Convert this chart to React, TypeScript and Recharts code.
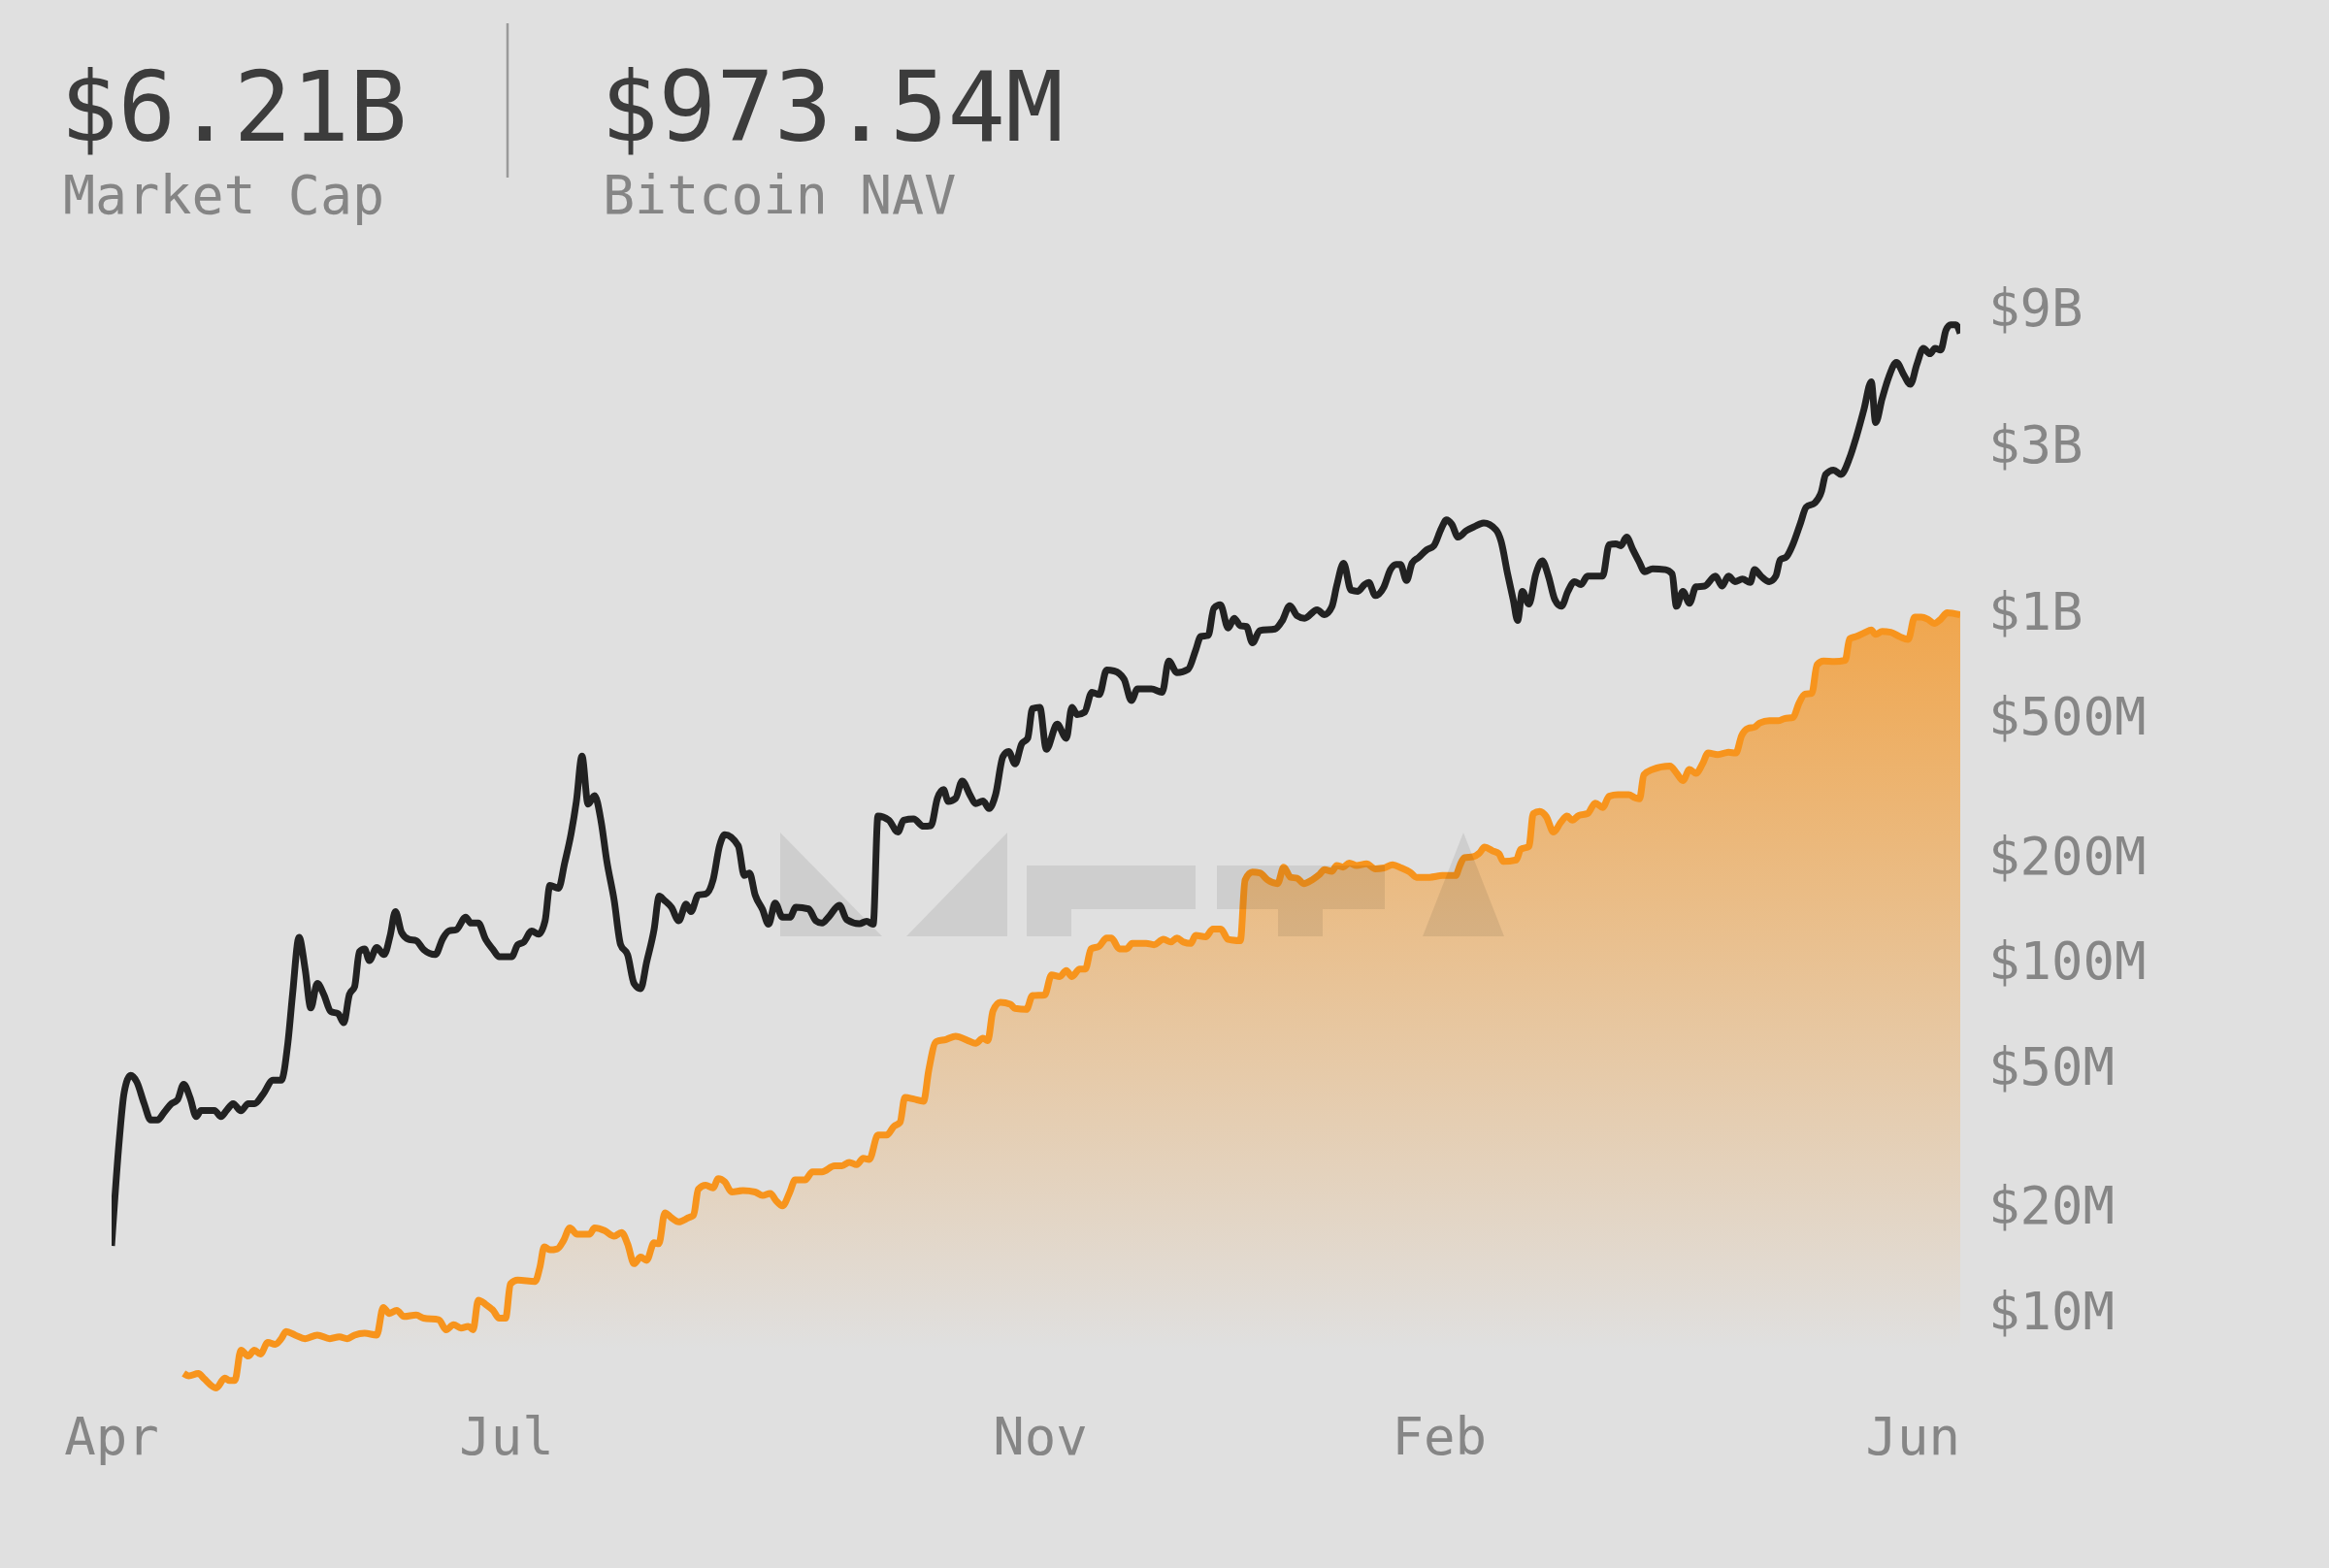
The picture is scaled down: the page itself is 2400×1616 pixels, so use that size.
import { ComposedChart, Line, Area, XAxis, YAxis } from "recharts";

// day = days since 2024-04-01, value in $M
const marketCap: [number, number][] = [
  [0, 15.3], [1.8, 31], [2.9, 42], [4.4, 47], [5.8, 45], [7.5, 39], [9, 35], [10.6, 35],
  [12.1, 36.8], [13.8, 39], [15.2, 40], [16.6, 44.3], [18.1, 40.5], [19.5, 35.8], [20.6, 37.3],
  [23.7, 37.3], [25.2, 35.8], [26.5, 37.3], [28, 39], [29.8, 37.2], [31.5, 39], [32.9, 39],
  [34.9, 41.5], [37.2, 45.5], [39.1, 45.5], [40.6, 57.8], [41.7, 80], [43.2, 116.5], [44.6, 94.5],
  [45.9, 73.2], [47.4, 86], [48.9, 80], [50.5, 71.5], [52.2, 70.5], [53.5, 66.4], [54.8, 80],
  [56, 84.2], [57.1, 106], [58.3, 108], [59.4, 100], [61.1, 109], [62.8, 104], [64.2, 118],
  [65.4, 138], [66.8, 120.5], [68.5, 115], [70.2, 114], [71.9, 107.5], [74.6, 104], [76.3, 115.5],
  [77.7, 121.5], [79.4, 122.5], [81.6, 133], [82.8, 128], [84.5, 128], [86.2, 115], [87.9, 107.5],
  [89.3, 102.6], [92.2, 102.6], [93.6, 111], [95, 113], [96.8, 121.5], [98.4, 119], [99.9, 130],
  [101, 164], [103, 161], [104.4, 190], [105.9, 231], [107.1, 285], [108.4, 384], [109.8, 280],
  [111.3, 296], [112.8, 250], [114.1, 193], [115.8, 149], [117.3, 111], [118.9, 104], [120.4, 86],
  [121.9, 83.1], [123.3, 99], [125, 122.5], [126.2, 153], [127.3, 149], [129, 142], [130.7, 130],
  [132.4, 145], [133.5, 138], [135.2, 154], [136.9, 155], [138.6, 170], [140.1, 213], [141.3, 229],
  [144.4, 213], [145.8, 175], [147, 178], [148.3, 154], [150, 140], [151.4, 127], [152.9, 146],
  [154.6, 133], [156.3, 133], [157.7, 142], [160.6, 140.5], [162.3, 130], [163.7, 128], [165.4, 134],
  [167.7, 144], [169.4, 131], [172.3, 127.5], [174, 129.5], [175.5, 127], [176.6, 259], [179.1, 252],
  [181.2, 233], [182.5, 252], [184.8, 254], [187.1, 242], [188.8, 243], [190.3, 291], [191.7, 308],
  [192.8, 285], [194.5, 291], [196, 326], [197.9, 296], [199.1, 281], [200.8, 286], [202.2, 272],
  [203.7, 298], [205.4, 383], [206.7, 396], [208.2, 365], [209.7, 416], [211.1, 432], [212.2, 525],
  [213.9, 530], [215.4, 402], [217.9, 474], [220, 432], [221.3, 530], [222.5, 505], [224.2, 513],
  [225.9, 585], [227.6, 576], [229.3, 677], [231, 673], [233.3, 638], [235, 554], [236.4, 598],
  [239.6, 598], [242.1, 585], [243.6, 718], [245.5, 666], [248.1, 681], [249.8, 771], [251, 845],
  [252.7, 850], [254, 1017], [255.5, 1040], [257.3, 893], [258.7, 952], [260.1, 907], [261.5, 902],
  [262.9, 810], [264.6, 878], [268.1, 887], [269.8, 938], [271.5, 1034], [273.2, 968], [274.9, 952],
  [277.8, 1007], [279.5, 975], [281.2, 1027], [282.3, 1177], [283.9, 1367], [285.6, 1146],
  [287.2, 1137], [288.7, 1188], [289.7, 1205], [291.2, 1106], [293.2, 1171], [294.7, 1311],
  [296, 1357], [297, 1357], [298.4, 1221], [299.7, 1369], [301.2, 1421], [303, 1492], [304.7, 1535],
  [306.4, 1717], [307.6, 1819], [308.8, 1769], [310.3, 1624], [312.2, 1695], [314.2, 1744],
  [316.2, 1783], [319, 1705], [320.2, 1579], [321.7, 1275], [323, 1075], [324, 938], [325.1, 1137],
  [326.6, 1045], [328.2, 1275], [329.7, 1389], [331.1, 1256], [332.6, 1075], [334.1, 1030],
  [335.6, 1137], [337.1, 1212], [338.6, 1188], [340.1, 1256], [343.6, 1256], [345.1, 1546],
  [346.6, 1555], [347.8, 1535], [349.1, 1624], [350.6, 1492], [351.9, 1389], [353.3, 1294],
  [355.1, 1319], [358.1, 1311], [359.6, 1275], [360.6, 1030], [362.1, 1137], [363.6, 1051],
  [365.1, 1171], [367.1, 1177], [369.6, 1256], [371.1, 1177], [372.6, 1256], [374.1, 1212],
  [375.8, 1232], [377.6, 1205], [378.6, 1311], [380.1, 1256], [382, 1212], [383.5, 1256],
  [384.5, 1397], [386, 1429], [387.5, 1555], [389.2, 1783], [390.5, 1979], [392.5, 2036],
  [394, 2190], [395, 2454], [396.8, 2525], [398.5, 2454], [400.5, 2733], [402, 3123], [403.8, 3760],
  [405.5, 4516], [406.5, 3453], [408, 4043], [409.5, 4648], [411.3, 5128], [413, 4727], [414.5, 4440],
  [416, 5060], [417.5, 5630], [419, 5430], [420.2, 5630], [421.5, 5565], [422.7, 6335], [423.8, 6570],
  [425, 6570], [426, 6210],
];

const bitcoinNav: [number, number][] = [
  [16.6, 6.6], [17.8, 6.5], [20, 6.6], [21.2, 6.4], [24.1, 6.0], [26.1, 6.4], [27.2, 6.3], [28.4, 6.3],
  [29.8, 7.7], [31.5, 7.4], [32.9, 7.7], [34.3, 7.5], [36, 8.1], [37.7, 8.0], [39.1, 8.3], [40.2, 8.7],
  [42.3, 8.5], [44.6, 8.3], [47.4, 8.5], [50.3, 8.3], [52.5, 8.4], [54.3, 8.3], [56, 8.5], [58.3, 8.6],
  [61.1, 8.5], [62.6, 10.2], [64, 9.8], [65.7, 10.0], [67.4, 9.6], [70.2, 9.7], [71.9, 9.5], [75.4, 9.4],
  [77.1, 8.8], [78.8, 9.1], [80.5, 8.9], [82.2, 9.0], [83.3, 8.8], [84.5, 10.7], [86.2, 10.4],
  [87.9, 10.0], [89.3, 9.5], [90.8, 9.5], [91.9, 11.9], [93.6, 12.2], [97.6, 12.1], [98.7, 13.3],
  [99.7, 15.2], [101, 14.9], [102.7, 15.0], [104.1, 15.8], [105.6, 17.2], [107.3, 16.5], [110.1, 16.5],
  [111.3, 17.2], [113.6, 16.9], [115.8, 16.3], [117.5, 16.7], [118.9, 15.5], [120.4, 13.6],
  [121.9, 14.2], [123.3, 13.9], [125, 15.6], [126.1, 15.5], [127.5, 19.0], [129, 18.4], [130.7, 17.9],
  [132.9, 18.4], [134.1, 18.7], [135.2, 22.2], [136.9, 22.8], [138.6, 22.4], [139.8, 23.8],
  [141.3, 23.3], [142.9, 21.8], [145.5, 22.0], [148.3, 21.8], [150, 21.3], [151.8, 21.6], [153.1, 20.6],
  [154.6, 19.9], [156.3, 21.8], [157.5, 23.6], [159.8, 23.6], [161.5, 24.9], [163.7, 24.9],
  [166.6, 25.9], [168.3, 25.9], [170, 26.5], [171.7, 26.1], [173.2, 27.2], [174.6, 27.0], [176.6, 31.7],
  [178.6, 31.7], [180.3, 33.6], [181.7, 34.5], [182.8, 40.6], [184.8, 40.2], [187.1, 39.6],
  [188.3, 48.6], [190, 58.6], [192.3, 59.5], [194.5, 60.8], [197.4, 59.0], [199.1, 58.0], [200.8, 60.0],
  [201.9, 59.0], [203.1, 71.8], [204.8, 76.0], [207.1, 75.0], [208.2, 73.0], [210.8, 72.5],
  [212.2, 79.4], [215, 79.7], [216.6, 91.0], [218.5, 90.0], [220, 93.7], [221.3, 90.0], [223.1, 94.6],
  [224.4, 94.6], [225.7, 108], [227.6, 110], [229.3, 116], [230.4, 116], [232.2, 108], [233.9, 108],
  [235.2, 112], [238.4, 112], [240.2, 111], [242.4, 115], [244.1, 113], [245.5, 116], [247, 113],
  [248.7, 112], [249.8, 118], [252.1, 117], [253.8, 123], [255.6, 123], [257.3, 115], [260.1, 114],
  [261.2, 170], [262.9, 179], [264.6, 178], [266.4, 170], [268.7, 166], [270.1, 185], [271.7, 173],
  [273.2, 172], [274.7, 166], [276.6, 170], [278.3, 176], [279.5, 182], [281.2, 180], [282.3, 187],
  [283.8, 185], [285.2, 190], [286.9, 187], [289.2, 189], [291.2, 183], [293.2, 184], [295.2, 188],
  [297.2, 184], [299.2, 179], [300.7, 173], [303.7, 173], [306.7, 175], [309.7, 175], [310.7, 187],
  [311.7, 197], [313.7, 198], [315.2, 203], [316.4, 211], [318.2, 206], [319.7, 202], [320.7, 192],
  [323.7, 194], [324.7, 208], [326.6, 212], [327.6, 263], [329.1, 267], [330.6, 258], [332.3, 233],
  [333.9, 248], [335.4, 259], [336.6, 252], [338.1, 260], [340.1, 263], [341.9, 282], [343.6, 274],
  [345.1, 295], [347.1, 298], [349.6, 298], [351.1, 292], [352.1, 290], [353.1, 340], [355.1, 352],
  [359.1, 360], [360.6, 344], [362.1, 327], [363.6, 352], [365.1, 343], [366.6, 365], [367.9, 392],
  [370.1, 388], [372.6, 394], [374.3, 392], [375.6, 439], [377.1, 461], [378.6, 465], [379.8, 478],
  [382, 485], [384, 485], [385.5, 492], [387.5, 496], [388.8, 543], [390.2, 578], [391.8, 581],
  [393, 701], [394.5, 718], [397, 716], [399.5, 722], [400.5, 832], [402, 844], [404.1, 868],
  [405.5, 881], [406.5, 856], [408, 873], [410, 868], [412, 844], [414, 828], [415.5, 959], [417, 959],
  [418.5, 946], [420, 920], [421.5, 946], [423, 987], [426, 973.54],
];

const monthTicks = [0, 91, 214, 306, 426];
const monthLabels = ["Apr", "Jul", "Nov", "Feb", "Jun"];
const valueTicks = [10, 20, 50, 100, 200, 500, 1000, 3000, 9000];

const headlineValues = ["$6.21B", "$973.54M"];
const headlineLabels = ["Market Cap", "Bitcoin NAV"];

const capData = marketCap.map(([day, value]) => ({ day, value }));
const navData = bitcoinNav.map(([day, value]) => ({ day, value }));

const FONT = '"DejaVu Sans Mono", "Liberation Mono", monospace';
const TICK_SIZE = 54;
const TICK_COLOR = "#868686";
const PLOT_RIGHT = 2020;
const TOP_LABEL_MIN_Y = 317;

const formatValue = (v: number) => (v >= 1000 ? `$${v / 1000}B` : `$${v}M`);

function XTick(props: any) {
  const { x, y, index } = props;
  const label = monthLabels[index] ?? "";
  const half = (label.length * 0.602 * TICK_SIZE) / 2;
  const clamp = x + half > PLOT_RIGHT;
  return (
    <text
      x={clamp ? Math.min(x, PLOT_RIGHT) : x}
      y={y}
      dy={40}
      textAnchor={clamp ? "end" : "middle"}
      fontFamily={FONT}
      fontSize={TICK_SIZE}
      fill={TICK_COLOR}
    >
      {label}
    </text>
  );
}

function YTick(props: any) {
  const { x, y, payload } = props;
  return (
    <text
      x={x}
      y={Math.max(y, TOP_LABEL_MIN_Y)}
      dy="0.36em"
      textAnchor="start"
      fontFamily={FONT}
      fontSize={TICK_SIZE}
      fill={TICK_COLOR}
    >
      {formatValue(payload.value)}
    </text>
  );
}

export default function App() {
  return (
    <div style={{ position: "relative", width: 2400, height: 1616, background: "#e0e0e0", overflow: "hidden" }}>
      <style>{`body{margin:0;background:#e0e0e0}`}</style>
      <ComposedChart width={2400} height={1616} margin={{ top: 269, right: 0, bottom: 0, left: 115 }}>
        <defs>
          <linearGradient id="navFill" x1="0" y1="0" x2="0" y2="1">
            <stop offset="0" stopColor="#f39c34" stopOpacity={0.85} />
            <stop offset="0.92" stopColor="#f39c34" stopOpacity={0} />
          </linearGradient>
        </defs>
        <XAxis
          type="number"
          dataKey="day"
          domain={[0, 426]}
          ticks={monthTicks}
          interval={0}
          allowDataOverflow
          axisLine={false}
          tickLine={false}
          tickSize={0}
          tickMargin={0}
          height={157}
          tick={XTick}
        />
        <YAxis
          type="number"
          scale="log"
          domain={[5, 10000]}
          ticks={valueTicks}
          interval={0}
          allowDataOverflow
          orientation="right"
          width={380}
          axisLine={false}
          tickLine={false}
          tickSize={0}
          tickMargin={29}
          tick={YTick}
        />
        <Area
          data={navData}
          dataKey="value"
          type="monotone"
          stroke="#f7941d"
          strokeWidth={7}
          fill="url(#navFill)"
          fillOpacity={1}
          baseValue="dataMin"
          isAnimationActive={false}
        />
        <Line
          data={capData}
          dataKey="value"
          type="monotone"
          stroke="#222222"
          strokeWidth={7}
          dot={false}
          isAnimationActive={false}
        />
      </ComposedChart>
      <svg
        width={2400}
        height={1616}
        style={{ position: "absolute", left: 0, top: 0, pointerEvents: "none" }}
      >
        <g fill="rgba(0,0,0,0.08)">
          <polygon points="804,858 804,965 909,965" />
          <polygon points="934,965 1038,858 1038,965" />
          <polygon points="1058,892 1232,892 1232,937 1104,937 1104,965 1058,965" />
          <polygon points="1254,892 1427,892 1427,937 1363,937 1363,965 1317,965 1317,937 1254,937" />
          <polygon points="1508,858 1550,965 1466,965" />
        </g>
        <text x={62} y={145} fontFamily={FONT} fontSize={99} fill="#3c3c3c">{headlineValues[0]}</text>
        <text x={65} y={220} fontFamily={FONT} fontSize={55} fill="#858585">{headlineLabels[0]}</text>
        <line x1={523} x2={523} y1={24} y2={183} stroke="#9a9a9a" strokeWidth={2.5} />
        <text x={619} y={145} fontFamily={FONT} fontSize={99} fill="#3c3c3c">{headlineValues[1]}</text>
        <text x={621} y={220} fontFamily={FONT} fontSize={55} fill="#858585">{headlineLabels[1]}</text>
      </svg>
    </div>
  );
}
